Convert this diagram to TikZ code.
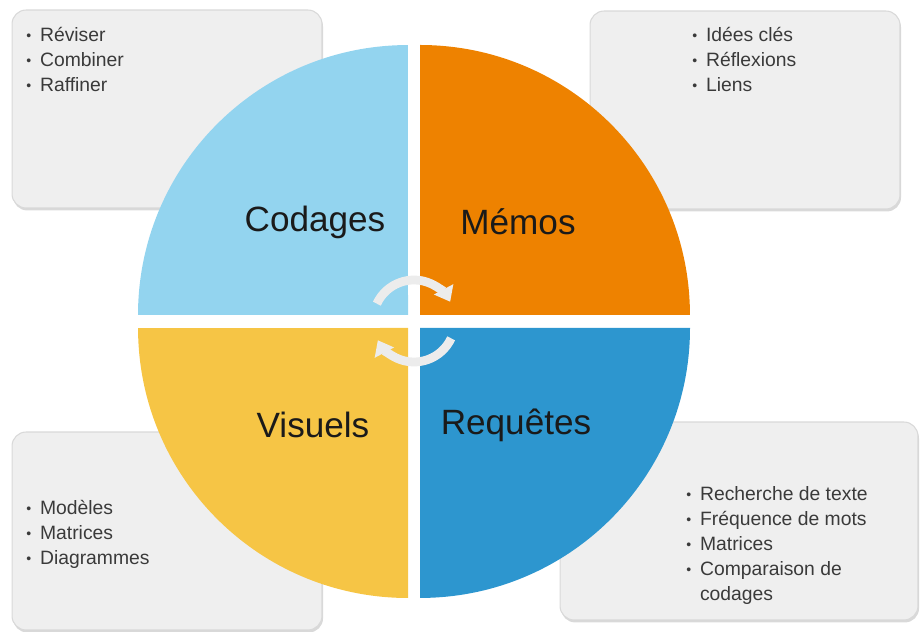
\documentclass[tikz,border=0pt]{standalone}
\usepackage{fontspec}
\setmainfont{Liberation Sans}
\usepackage{xcolor}
\usetikzlibrary{arrows.meta, positioning, shadows}
\definecolor{codblue}{HTML}{93D4EF}
\definecolor{memorange}{HTML}{EE8200}
\definecolor{visyellow}{HTML}{F6C545}
\definecolor{reqblue}{HTML}{2D96CF}
\definecolor{boxgray}{HTML}{EFEFEF}
\definecolor{boxline}{HTML}{D9D9D9}
\definecolor{listtext}{HTML}{3A3A3A}
\definecolor{labeltext}{HTML}{1A1A1A}

\newcommand{\puce}{\raisebox{0.15ex}{\footnotesize\textbullet}}

\begin{document}
\begin{tikzpicture}[
  x=0.02cm, y=0.02cm,
  panel/.style={rectangle, rounded corners=8pt, draw=boxline, line width=0.6pt,
                fill=boxgray, minimum height=3.96cm,
                drop shadow={shadow xshift=0.6pt, shadow yshift=-1.4pt, opacity=0.3}},
  liste/.style={anchor=north west, inner sep=0pt, text=listtext,
                font=\fontsize{11}{14.2}\selectfont, align=left},
  titre/.style={font=\fontsize{20}{24}\selectfont, text=labeltext},
  fleche/.style={line width=5pt, color=white!85!gray,
                 -{Triangle[length=8pt, width=12pt]}}
]
\useasboundingbox (0,0) rectangle (920,632);

% side panels
\node[panel, minimum width=6.2cm] (pcod) at (167,523) {};
\node[panel, minimum width=6.2cm] (pmem) at (745,522) {};
\node[panel, minimum width=6.2cm] (pvis) at (167,101) {};
\node[panel, minimum width=7.16cm] (preq) at (739,111) {};

% quarters of the wheel
\fill[codblue] (408,317) -- (138,317) arc[start angle=180, end angle=90, radius=5.4cm] -- cycle;
\fill[memorange] (420,317) -- (420,587) arc[start angle=90, end angle=0, radius=5.4cm] -- cycle;
\fill[visyellow] (408,304) -- (408,34) arc[start angle=270, end angle=180, radius=5.4cm] -- cycle;
\fill[reqblue] (420,304) -- (690,304) arc[start angle=0, end angle=-90, radius=5.4cm] -- cycle;

\node[titre] (codages) at (315,410) {Codages};
\node[titre] (memos) at (518,410) {Mémos};
\node[titre] (visuels) at (313,207) {Visuels};
\node[titre] (requetes) at (516,207) {Requêtes};

% cycle arrows
\coordinate (centre) at (414,311);
\draw[fleche] ([shift={(155:0.82cm)}]centre) arc[start angle=155, end angle=28, radius=0.82cm];
\draw[fleche] ([shift={(-25:0.82cm)}]centre) arc[start angle=-25, end angle=-152, radius=0.82cm];

% lists
\node[liste] (lcod) at (26,608) {\begin{tabular}{@{}l@{\hspace{5pt}}l@{}}
  \puce & Réviser\\ \puce & Combiner\\ \puce & Raffiner
\end{tabular}};
\node[liste] (lmem) at (692,608) {\begin{tabular}{@{}l@{\hspace{5pt}}l@{}}
  \puce & Idées clés\\ \puce & Réflexions\\ \puce & Liens
\end{tabular}};
\node[liste] (lvis) at (26,135) {\begin{tabular}{@{}l@{\hspace{5pt}}l@{}}
  \puce & Modèles\\ \puce & Matrices\\ \puce & Diagrammes
\end{tabular}};
\node[liste] (lreq) at (686,149) {\begin{tabular}{@{}l@{\hspace{5pt}}l@{}}
  \puce & Recherche de texte\\ \puce & Fréquence de mots\\ \puce & Matrices\\
  \puce & Comparaison de\\ & codages
\end{tabular}};

\end{tikzpicture}
\end{document}
